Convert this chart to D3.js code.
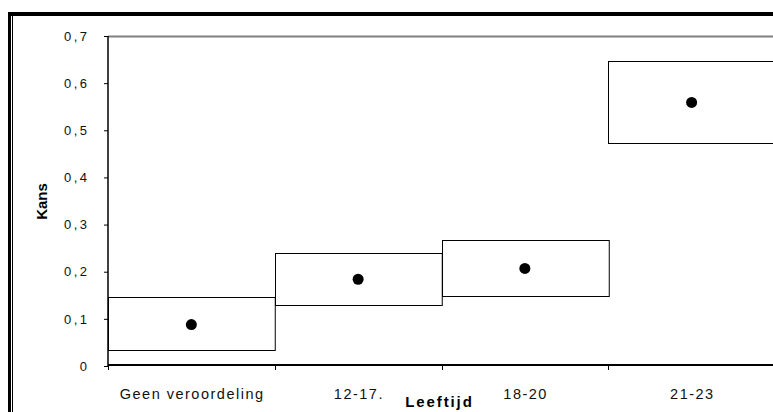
<!DOCTYPE html>
<html><head><meta charset="utf-8">
<script src="https://cdn.jsdelivr.net/npm/d3@7"></script>
<style>
html,body{margin:0;padding:0;background:#fff;}
svg{display:block;}
text{font-family:Arial,"Liberation Sans",sans-serif;}
</style></head>
<body>
<svg id="c" width="773" height="412"></svg>
<script>
const categories = ["Geen veroordeling", "12-17.", "18-20", "21-23"];
const lower = [0.034, 0.129, 0.148, 0.472];
const upper = [0.146, 0.240, 0.268, 0.646];
const estimate = [0.088, 0.184, 0.207, 0.559];
const yTicks = [0, 0.1, 0.2, 0.3, 0.4, 0.5, 0.6, 0.7];

(function(){
const svg = d3.select("#c");
const pL = 108, pR = 775, pT = 36, pB = 366;
const FONT = "Arial, 'Liberation Sans', sans-serif";

// outer frame
svg.append("rect").attr("x", 8).attr("y", 12).attr("width", 3).attr("height", 412).attr("fill", "#000");
svg.append("rect").attr("x", 8).attr("y", 12).attr("width", 780).attr("height", 4).attr("fill", "#000");
svg.append("rect").attr("x", 12).attr("y", 16).attr("width", 1).attr("height", 400).attr("fill", "#000");

const x = d3.scaleBand().domain(categories).range([pL, pR]).padding(0);
const y = d3.scaleLinear().domain([0, 0.7]).range([pB, pT]);

// top gray border of plot area
svg.append("line").attr("x1", pL).attr("x2", 800).attr("y1", pT + 0.5).attr("y2", pT + 0.5)
  .attr("stroke", "#808080").attr("stroke-width", 2);

// boxes
svg.selectAll("rect.box").data(categories).enter().append("rect")
  .attr("class", "box")
  .attr("x", d => Math.round(x(d)) + 0.5)
  .attr("width", x.bandwidth())
  .attr("y", (d, i) => Math.round(y(upper[i])) + 0.5)
  .attr("height", (d, i) => Math.round(y(lower[i])) - Math.round(y(upper[i])))
  .attr("fill", "none").attr("stroke", "#000").attr("stroke-width", 1);

// points
svg.selectAll("ellipse.pt").data(categories).enter().append("ellipse")
  .attr("class", "pt")
  .attr("cx", d => x(d) + x.bandwidth() / 2)
  .attr("cy", (d, i) => y(estimate[i]))
  .attr("rx", 5.5).attr("ry", 5.5).attr("fill", "#000");

// y axis
const yAxis = d3.axisLeft(y).tickValues(yTicks).tickSize(4).tickPadding(14.5)
  .tickFormat(d => d === 0 ? "0" : d3.format(".1f")(d).replace(".", ","));
const gy = svg.append("g").attr("transform", `translate(${pL},0)`).call(yAxis);
gy.select(".domain").attr("stroke", "#000").attr("stroke-width", 1.5).attr("d", `M0,${pT}V${pB}`);
gy.selectAll(".tick line").attr("stroke", "#000");
gy.selectAll(".tick text").attr("font-size", 13).attr("fill", "#111")
  .attr("letter-spacing", "2.5px").attr("font-family", FONT);

// x axis
const xAxis = d3.axisBottom(x).tickSize(0);
const gx = svg.append("g").attr("transform", `translate(0,${pB - 1})`).call(xAxis);
gx.select(".domain").attr("stroke", "#000").attr("stroke-width", 2).attr("d", `M${pL},0H800`);
gx.selectAll(".tick text").attr("font-size", 14.5).attr("fill", "#111")
  .attr("y", 34).attr("dy", 0).attr("letter-spacing", "1.5px")
  .attr("dx", "0.75px").attr("font-family", FONT);
// boundary ticks
const bounds = categories.map(d => x(d)).concat([pR]);
svg.selectAll("line.xt").data(bounds).enter().append("line")
  .attr("class", "xt")
  .attr("x1", d => Math.round(d) + 0.5).attr("x2", d => Math.round(d) + 0.5)
  .attr("y1", pB).attr("y2", pB + 4)
  .attr("stroke", "#000");

// axis titles
svg.append("text").attr("x", 439.5).attr("y", 407).attr("text-anchor", "middle")
  .attr("font-size", 15).attr("font-weight", "bold").attr("letter-spacing", "1.9px")
  .attr("font-family", FONT).text("Leeftijd");
svg.append("text").attr("transform", "translate(46.5,201.5) rotate(-90)").attr("text-anchor", "middle")
  .attr("font-size", 15).attr("font-weight", "bold").attr("font-family", FONT).text("Kans");
})();
</script>
</body></html>
